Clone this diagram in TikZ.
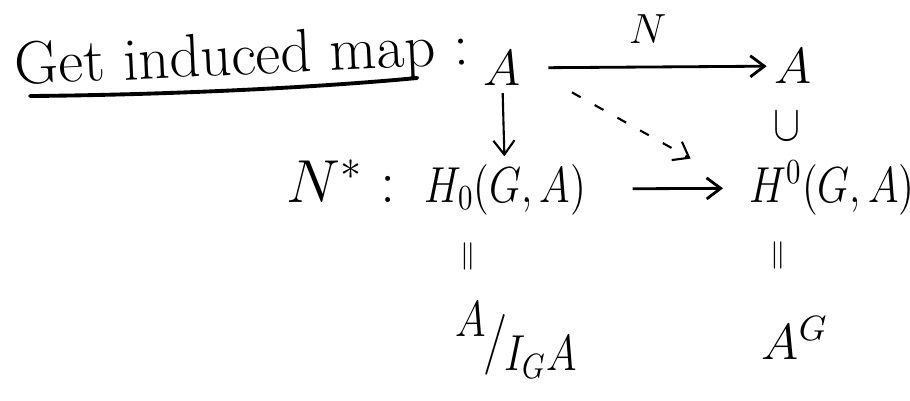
\documentclass[tikz,border=0pt]{standalone}
\usepackage{amsmath}
\usepackage{amssymb}
\usetikzlibrary{arrows.meta}

\begin{document}
\begin{tikzpicture}[
  map/.style={-{Straight Barb[length=4pt,width=6pt]}, line width=0.8pt},
  dashmap/.style={map, line width=0.6pt, dash pattern=on 1mm off 1.6mm},
  term/.style={font=\Large, inner sep=2pt},
  squeeze/.style={term, xscale=0.82},
  vequal/.style={rotate=90, yscale=0.8, font=\large, inner sep=0pt}]
  \useasboundingbox (0,0) rectangle (9.1,4);
  \node[font=\LARGE, anchor=base west, inner sep=0pt, rotate=2.6] (title) at (0.15,3.15) {Get induced map\kern5pt:};
  \draw[line width=1.1pt, line cap=round] (0.30,3.04) .. controls (1.5,3.05) and (3.0,3.11) .. (4.17,3.22);
  \node[term] (Aleft) at (5.02,3.32) {$A$};
  \node[term] (Aright) at (7.93,3.34) {$A$};
  \node[font=\Large, xscale=0.8, inner sep=0pt] (incl) at (7.87,2.74) {$\cup$};
  \node[term, font=\LARGE, anchor=base east] (Nstar) at (4.03,1.98) {$N^*:$};
  \node[squeeze, anchor=base west] (Hlow) at (4.18,1.98) {$H_0(G,A)$};
  \node[squeeze, anchor=base west] (Hup) at (7.43,1.98) {$H^0(G,A)$};
  \node[vequal] (eqleft) at (4.70,1.44) {$=$};
  \node[vequal] (eqright) at (7.80,1.45) {$=$};
  \node[squeeze] (quot) at (5.16,0.60) {\raisebox{1ex}{$A$}\kern-1pt$\big/$\kern-1pt\raisebox{-0.6ex}{$I_GA$}};
  \node[term] (fixed) at (7.95,0.62) {$A^G$};
  \draw[map, shorten <=2mm] (Aleft) -- node[above=1mm, font=\large] (Nlabel) {$N$} (Aright);
  \draw[map, line width=0.6pt] (Aleft) -- (Hlow);
  \draw[map, shorten <=4mm, shorten >=2mm] (Hlow) -- (Hup);
  \draw[dashmap, shorten <=5mm, shorten >=6mm] (Aleft.east) -- (Hup.west);
\end{tikzpicture}
\end{document}
